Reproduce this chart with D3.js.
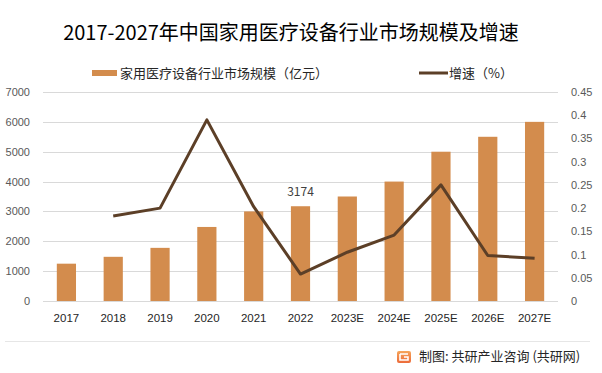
<!DOCTYPE html>
<html>
<head>
<meta charset="utf-8">
<style>
  body { margin: 0; background: #fff; }
  svg { font-family: "Noto Sans CJK SC", "Noto Sans", sans-serif; }
  .grid line { stroke: #d9d9d9; stroke-width: 1; }
  .axis text { fill: #595959; font-size: 11px; }
  .xaxis text { fill: #262626; font-size: 11.5px; }
</style>
</head>
<body>
<script src="https://d3js.org/d3.v7.min.js"></script>
<script>
  // data
  var years = ["2017", "2018", "2019", "2020", "2021", "2022", "2023E", "2024E", "2025E", "2026E", "2027E"];
  var marketSize = [1250, 1480, 1780, 2480, 3000, 3174, 3500, 4000, 5000, 5500, 6000];
  var growth = [null, 0.183, 0.2, 0.39, 0.203, 0.058, 0.105, 0.142, 0.25, 0.098, 0.092];
  var leftTicks = [0, 1000, 2000, 3000, 4000, 5000, 6000, 7000];
  var rightTicks = [0, 0.05, 0.1, 0.15, 0.2, 0.25, 0.3, 0.35, 0.4, 0.45];

  var width = 602, height = 373;
  var plot = { left: 43, right: 558, top: 92, bottom: 301 };

  var svg = d3.select("body").append("svg")
      .attr("width", width)
      .attr("height", height);

  var x = d3.scaleBand()
      .domain(years)
      .range([plot.left, plot.right])
      .paddingInner(0.59)
      .paddingOuter(0.295);
  var xc = d3.scaleBand().domain(years).range([plot.left, plot.right]);
  var yL = d3.scaleLinear().domain([0, 7000]).range([plot.bottom, plot.top]);
  var yR = d3.scaleLinear().domain([0, 0.45]).range([plot.bottom, plot.top]);

  // title
  svg.append("text")
      .attr("x", 291)
      .attr("y", 40)
      .attr("text-anchor", "middle")
      .attr("font-size", "20px")
      .attr("fill", "#000")
      .text("2017-2027年中国家用医疗设备行业市场规模及增速");

  // legend
  var legend = svg.append("g");
  legend.append("rect").attr("x", 92).attr("y", 70).attr("width", 25).attr("height", 6).attr("fill", "#d38c4d");
  legend.append("text").attr("x", 120).attr("y", 78).attr("font-size", "13px").attr("fill", "#262626")
      .text("家用医疗设备行业市场规模（亿元）");
  legend.append("line").attr("x1", 419).attr("x2", 448).attr("y1", 73).attr("y2", 73)
      .attr("stroke", "#5c3f27").attr("stroke-width", 3);
  legend.append("text").attr("x", 449).attr("y", 78).attr("font-size", "13px").attr("fill", "#262626")
      .text("增速（%）");

  // gridlines
  svg.append("g")
      .attr("class", "grid")
      .selectAll("line")
      .data(leftTicks)
      .enter().append("line")
        .attr("x1", plot.left)
        .attr("x2", plot.right)
        .attr("y1", function(d) { return Math.round(yL(d)) + 0.5; })
        .attr("y2", function(d) { return Math.round(yL(d)) + 0.5; });

  // left axis
  var axL = svg.append("g")
      .attr("class", "axis")
      .attr("transform", "translate(" + (plot.left - 10) + ",0)")
      .call(d3.axisLeft(yL).tickValues(leftTicks).tickSize(0).tickFormat(d3.format("d")));
  axL.select(".domain").remove();

  // right axis
  var axR = svg.append("g")
      .attr("class", "axis")
      .attr("transform", "translate(" + (plot.right + 10) + ",0)")
      .call(d3.axisRight(yR).tickValues(rightTicks).tickSize(0).tickFormat(function(d) { return d3.format("")(+d.toFixed(2)); }));
  axR.select(".domain").remove();

  // bars
  svg.append("g")
      .selectAll("rect")
      .data(marketSize)
      .enter().append("rect")
        .attr("x", function(d, i) { return x(years[i]); })
        .attr("width", x.bandwidth())
        .attr("y", function(d) { return yL(d); })
        .attr("height", function(d) { return plot.bottom - yL(d); })
        .attr("fill", "#d38c4d");

  // data label for 2022
  svg.append("text")
      .attr("x", xc("2022") + xc.bandwidth() / 2)
      .attr("y", yL(3174) - 10)
      .attr("text-anchor", "middle")
      .attr("font-size", "12px")
      .attr("fill", "#404040")
      .text("3174");

  // growth line
  var line = d3.line()
      .defined(function(d) { return d != null; })
      .x(function(d, i) { return xc(years[i]) + xc.bandwidth() / 2; })
      .y(function(d) { return yR(d); });
  svg.append("path")
      .datum(growth)
      .attr("d", line)
      .attr("fill", "none")
      .attr("stroke", "#5c3f27")
      .attr("stroke-width", 3)
      .attr("stroke-linejoin", "round");

  // x axis labels
  var axX = svg.append("g")
      .attr("class", "xaxis")
      .attr("transform", "translate(0," + (plot.bottom + 10) + ")")
      .call(d3.axisBottom(xc).tickSize(0));
  axX.select(".domain").remove();

  // footer
  svg.append("line")
      .attr("x1", 5).attr("x2", 590)
      .attr("y1", 341.5).attr("y2", 341.5)
      .attr("stroke", "#e6e6e6");
  var defs = svg.append("defs");
  var grad = defs.append("linearGradient").attr("id", "logoGrad").attr("x1", 0).attr("y1", 0).attr("x2", 0).attr("y2", 1);
  grad.append("stop").attr("offset", "0%").attr("stop-color", "#f6a55a");
  grad.append("stop").attr("offset", "100%").attr("stop-color", "#ec6b3a");
  var logo = svg.append("g").attr("transform", "translate(397,351)");
  logo.append("rect").attr("width", 14).attr("height", 12).attr("rx", 2).attr("fill", "url(#logoGrad)");
  logo.append("path").attr("d", "M3,3 H11 M3,3 V9 H11 V6 H7").attr("fill", "none").attr("stroke", "#fff").attr("stroke-width", 1.6);
  svg.append("text")
      .attr("x", 419)
      .attr("y", 361)
      .attr("font-size", "13px")
      .attr("fill", "#262626")
      .text("制图: 共研产业咨询 (共研网)");
</script>
</body>
</html>
